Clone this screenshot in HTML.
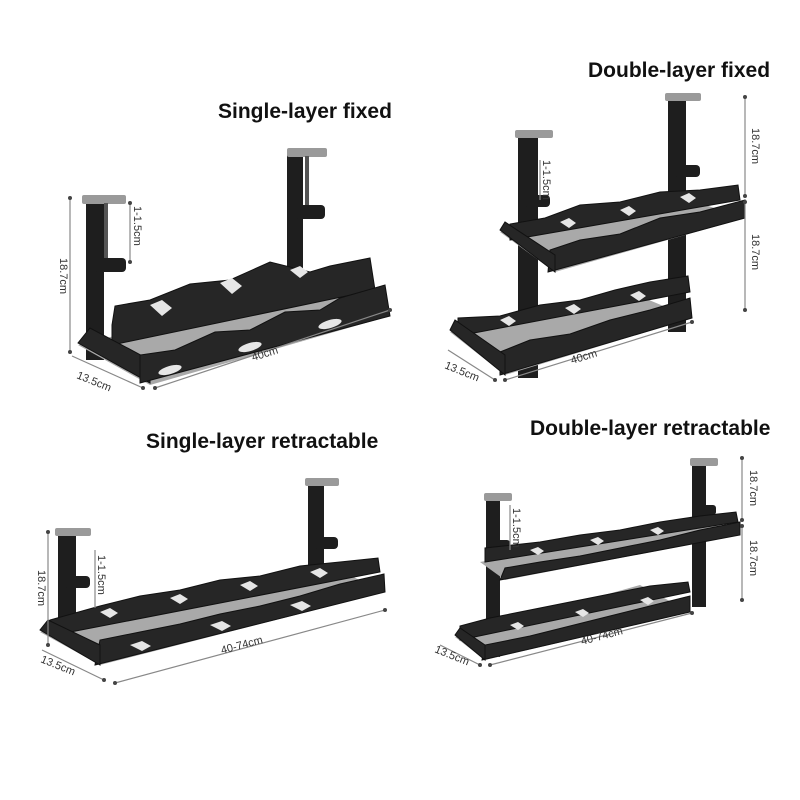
<!DOCTYPE html>
<html><head><meta charset="utf-8"><style>
html,body{margin:0;padding:0;background:#fff;width:800px;height:800px;overflow:hidden}
</style></head><body>
<svg width="800" height="800" xmlns="http://www.w3.org/2000/svg" font-family="Liberation Sans, sans-serif">
<rect width="800" height="800" fill="#fff"/>
<defs>
<style>
.t{font-weight:bold;font-size:21px;fill:#111;font-family:"Comic Sans MS","Liberation Sans",sans-serif}
.d{font-size:11px;fill:#333}
.ln{stroke:#888;stroke-width:1.2;fill:none}
.w{fill:#262626;stroke:#111;stroke-width:1}
.bot{fill:#a9a9a9}
.hole{fill:#e6e6e6}
.post{fill:#1e1e1e}
.cap{fill:#9a9a9a}
</style>
</defs>

<text class="t" x="218" y="118">Single-layer fixed</text>
<text class="t" x="588" y="77">Double-layer fixed</text>
<text class="t" x="146" y="448">Single-layer retractable</text>
<text class="t" x="530" y="435">Double-layer retractable</text>

<!-- ===== Q1 ===== -->
<rect class="post" x="86" y="200" width="18" height="160"/>
<rect class="cap" x="82" y="195" width="44" height="9" rx="2"/>
<rect x="104" y="203" width="4" height="58" fill="#555"/>
<rect class="post" x="94" y="258" width="32" height="14" rx="4"/>
<rect class="post" x="287" y="152" width="16" height="150"/>
<rect class="cap" x="287" y="148" width="40" height="9" rx="2"/>
<rect x="305" y="156" width="4" height="52" fill="#555"/>
<rect class="post" x="295" y="205" width="30" height="14" rx="4"/>
<polygon class="bot" points="78,345 150,385 390,316 320,285"/>
<polygon class="w" points="112,325 112,345 375,290 370,258 330,266 310,272 270,262 230,280 190,284 150,300 115,306"/>
<path d="M220,283 l12,-5 10,8 -10,8z M150,305 l12,-5 10,8 -10,8z M290,270 l10,-4 8,6 -8,6z" class="hole"/>
<polygon class="w" points="78,343 150,383 150,360 90,328"/>
<polygon class="w" points="140,383 390,316 385,285 340,298 320,310 285,312 250,330 215,332 175,350 140,355"/>
<ellipse class="hole" cx="170" cy="370" rx="12" ry="4" transform="rotate(-16 170 370)"/>
<ellipse class="hole" cx="250" cy="347" rx="12" ry="4" transform="rotate(-16 250 347)"/>
<ellipse class="hole" cx="330" cy="324" rx="12" ry="4" transform="rotate(-16 330 324)"/>
<g class="ln"><line x1="70" y1="198" x2="70" y2="352"/><line x1="130" y1="203" x2="130" y2="262"/>
<line x1="72" y1="356" x2="143" y2="388"/><line x1="155" y1="388" x2="390" y2="310"/></g>
<g fill="#444"><circle cx="70" cy="198" r="2"/><circle cx="70" cy="352" r="2"/><circle cx="130" cy="203" r="2"/><circle cx="130" cy="262" r="2"/><circle cx="143" cy="388" r="2"/><circle cx="155" cy="388" r="2"/><circle cx="390" cy="310" r="2"/></g>
<text class="d" transform="translate(60,258) rotate(90)">18.7cm</text>
<text class="d" transform="translate(134,206) rotate(90)">1-1.5cm</text>
<text class="d" transform="translate(253,361) rotate(-17)">40cm</text>
<text class="d" transform="translate(76,378) rotate(22)">13.5cm</text>

<!-- ===== Q2 ===== -->
<rect class="post" x="518" y="135" width="20" height="243"/>
<rect class="cap" x="515" y="130" width="38" height="8" rx="2"/>
<rect class="post" x="524" y="195" width="26" height="12" rx="4"/>
<rect class="post" x="668" y="97" width="18" height="235"/>
<rect class="cap" x="665" y="93" width="36" height="8" rx="2"/>
<rect class="post" x="674" y="165" width="26" height="12" rx="4"/>
<polygon class="bot" points="500,232 555,272 745,218 690,200"/>
<polygon class="w" points="510,224 510,240 740,200 738,185 700,190 660,192 620,202 580,205 545,218"/>
<path d="M560,222 l9,-4 7,5 -7,5z M620,210 l9,-4 7,5 -7,5z M680,197 l9,-4 7,5 -7,5z" class="hole"/>
<polygon class="w" points="548,272 745,218 745,200 700,212 660,218 620,234 580,240 550,250"/>
<polygon class="w" points="500,230 555,272 555,255 505,222"/>
<polygon class="bot" points="450,332 505,375 692,318 630,292"/>
<polygon class="w" points="458,318 458,336 690,292 688,276 650,282 615,290 580,300 540,305 500,316"/>
<path d="M500,320 l9,-4 7,5 -7,5z M565,308 l9,-4 7,5 -7,5z M630,295 l9,-4 7,5 -7,5z" class="hole"/>
<polygon class="w" points="500,375 692,318 690,298 650,310 610,320 570,334 530,340 500,352"/>
<polygon class="w" points="450,330 505,375 505,355 455,320"/>
<g class="ln"><line x1="745" y1="97" x2="745" y2="196"/><line x1="745" y1="202" x2="745" y2="310"/><line x1="540" y1="160" x2="540" y2="200"/>
<line x1="448" y1="350" x2="495" y2="380"/><line x1="505" y1="380" x2="692" y2="322"/></g>
<g fill="#444"><circle cx="745" cy="97" r="2"/><circle cx="745" cy="196" r="2"/><circle cx="745" cy="202" r="2"/><circle cx="745" cy="310" r="2"/><circle cx="495" cy="380" r="2"/><circle cx="505" cy="380" r="2"/><circle cx="692" cy="322" r="2"/></g>
<text class="d" transform="translate(752,128) rotate(90)">18.7cm</text>
<text class="d" transform="translate(752,234) rotate(90)">18.7cm</text>
<text class="d" transform="translate(543,160) rotate(90)">1-1.5cm</text>
<text class="d" transform="translate(572,364) rotate(-17)">40cm</text>
<text class="d" transform="translate(444,368) rotate(22)">13.5cm</text>

<!-- ===== Q3 ===== -->
<rect class="post" x="58" y="533" width="18" height="105"/>
<rect class="cap" x="55" y="528" width="36" height="8" rx="2"/>
<rect class="post" x="64" y="576" width="26" height="12" rx="4"/>
<rect class="post" x="308" y="482" width="16" height="100"/>
<rect class="cap" x="305" y="478" width="34" height="8" rx="2"/>
<rect class="post" x="314" y="537" width="24" height="12" rx="4"/>
<polygon class="bot" points="40,632 100,665 385,592 330,566"/>
<polygon class="w" points="50,620 50,636 380,572 378,558 340,562 300,566 260,576 220,580 180,590 140,596 100,606"/>
<path d="M100,612 l10,-4 8,5 -8,5z M170,598 l10,-4 8,5 -8,5z M240,585 l10,-4 8,5 -8,5z M310,572 l10,-4 8,5 -8,5z" class="hole"/>
<polygon class="w" points="95,665 385,592 384,574 340,584 300,596 260,606 220,614 180,624 140,632 100,640"/>
<polygon class="w" points="40,630 100,665 100,645 48,620"/>
<path d="M130,645 l12,-4 9,5 -9,5z M210,625 l12,-4 9,5 -9,5z M290,605 l12,-4 9,5 -9,5z" class="hole"/>
<g class="ln"><line x1="48" y1="532" x2="48" y2="645"/><line x1="95" y1="550" x2="95" y2="608"/>
<line x1="42" y1="650" x2="104" y2="680"/><line x1="115" y1="683" x2="385" y2="610"/></g>
<g fill="#444"><circle cx="48" cy="532" r="2"/><circle cx="48" cy="645" r="2"/><circle cx="104" cy="680" r="2"/><circle cx="115" cy="683" r="2"/><circle cx="385" cy="610" r="2"/></g>
<text class="d" transform="translate(38,570) rotate(90)">18.7cm</text>
<text class="d" transform="translate(98,555) rotate(90)">1-1.5cm</text>
<text class="d" transform="translate(222,654) rotate(-15)">40-74cm</text>
<text class="d" transform="translate(40,662) rotate(22)">13.5cm</text>

<!-- ===== Q4 ===== -->
<rect class="post" x="486" y="497" width="14" height="160"/>
<rect class="cap" x="484" y="493" width="28" height="8" rx="2"/>
<rect class="post" x="490" y="540" width="20" height="10" rx="3"/>
<rect class="post" x="692" y="462" width="14" height="145"/>
<rect class="cap" x="690" y="458" width="28" height="8" rx="2"/>
<rect class="post" x="696" y="505" width="20" height="10" rx="3"/>
<polygon class="bot" points="480,562 505,580 740,535 705,520"/>
<polygon class="w" points="485,548 485,562 738,522 736,512 700,516 660,522 620,530 580,535 540,542"/>
<path d="M530,550 l8,-3 6,4 -6,4z M590,540 l8,-3 6,4 -6,4z M650,530 l8,-3 6,4 -6,4z" class="hole"/>
<polygon class="w" points="500,580 740,535 740,522 700,530 660,540 620,548 580,556 540,562 505,568"/>
<polygon class="bot" points="455,637 485,660 690,612 640,585"/>
<polygon class="w" points="460,626 460,640 690,592 688,582 650,586 610,594 570,602 530,610 490,618"/>
<path d="M510,625 l8,-3 6,4 -6,4z M575,612 l8,-3 6,4 -6,4z M640,600 l8,-3 6,4 -6,4z" class="hole"/>
<polygon class="w" points="482,660 690,612 690,596 650,606 610,616 570,626 530,636 485,645"/>
<polygon class="w" points="455,635 485,660 485,645 460,628"/>
<g class="ln"><line x1="742" y1="458" x2="742" y2="520"/><line x1="742" y1="526" x2="742" y2="600"/><line x1="510" y1="505" x2="510" y2="550"/>
<line x1="440" y1="645" x2="480" y2="665"/><line x1="490" y1="665" x2="692" y2="613"/></g>
<g fill="#444"><circle cx="742" cy="458" r="2"/><circle cx="742" cy="520" r="2"/><circle cx="742" cy="526" r="2"/><circle cx="742" cy="600" r="2"/><circle cx="480" cy="665" r="2"/><circle cx="490" cy="665" r="2"/><circle cx="692" cy="613" r="2"/></g>
<text class="d" transform="translate(750,470) rotate(90)">18.7cm</text>
<text class="d" transform="translate(750,540) rotate(90)">18.7cm</text>
<text class="d" transform="translate(513,508) rotate(90)">1-1.5cm</text>
<text class="d" transform="translate(582,645) rotate(-15)">40-74cm</text>
<text class="d" transform="translate(434,652) rotate(22)">13.5cm</text>
</svg>
</body></html>
